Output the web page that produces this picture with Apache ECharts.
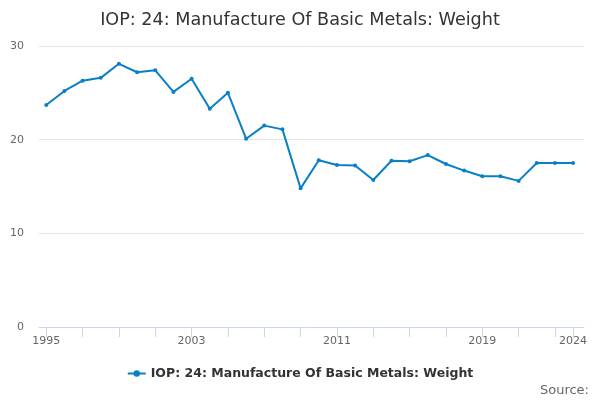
<!DOCTYPE html>
<html>
<head>
<meta charset="utf-8">
<script src="https://cdn.jsdelivr.net/npm/echarts@6/dist/echarts.min.js"></script>
<style>
  html, body { margin: 0; padding: 0; background: #fff; }
  #chart { width: 600px; height: 400px; }
</style>
</head>
<body>
<div id="chart"></div>
<script>
// data
var years = [1995, 1996, 1997, 1998, 1999, 2000, 2001, 2002, 2003, 2004,
             2005, 2006, 2007, 2008, 2009, 2010, 2011, 2012, 2013, 2014,
             2015, 2016, 2017, 2018, 2019, 2020, 2021, 2022, 2023, 2024];
var weight = [23.7, 25.2, 26.3, 26.6, 28.1, 27.2, 27.4, 25.1, 26.5, 23.3,
              25.0, 20.1, 21.5, 21.1, 14.8, 17.8, 17.3, 17.25, 15.7, 17.75,
              17.7, 18.35, 17.4, 16.7, 16.1, 16.1, 15.6, 17.5, 17.5, 17.5];
var tickYears = [1995, 1997, 1999, 2001, 2003, 2005, 2007, 2009, 2011,
                 2013, 2015, 2017, 2019, 2021, 2023, 2024];
var labelYears = [1995, 2003, 2011, 2019, 2024];
var seriesName = 'IOP: 24: Manufacture Of Basic Metals: Weight';

var pts = years.map(function(y, i) { return [y, weight[i]]; });

var chart = echarts.init(document.getElementById('chart'));
var option = {
    textStyle: { fontFamily: 'DejaVu Sans' },
    title: {
        text: seriesName,
        left: 'center',
        top: 6,
        textStyle: { fontSize: 17.6, fontWeight: 'normal', color: '#333', fontFamily: 'DejaVu Sans' }
    },
    legend: {
        bottom: 15,
        left: 'center',
        itemWidth: 18,
        itemHeight: 8,
        textStyle: { fontSize: 12.5, color: '#333', fontWeight: 'bold', fontFamily: 'DejaVu Sans' },
        data: [seriesName]
    },
    graphic: [{
        type: 'text',
        right: 11,
        bottom: 3,
        style: { text: 'Source:', fontSize: 13, fill: '#666', fontFamily: 'DejaVu Sans' }
    }],
    grid: { left: 39, right: 16, top: 46, bottom: 73, containLabel: false },
    xAxis: {
        type: 'value',
        min: 1994.6,
        max: 2024.6,
        axisLine: { show: true, lineStyle: { color: '#ccd6eb' } },
        axisTick: { show: true, inside: false, length: 10, lineStyle: { color: '#ccd6eb' }, customValues: tickYears },
        axisLabel: { color: '#666', fontSize: 11, margin: 9, customValues: labelYears,
                     formatter: function(v) { return String(v); } },
        splitLine: { show: false }
    },
    yAxis: {
        type: 'value',
        min: 0,
        max: 30,
        interval: 10,
        axisLine: { show: false },
        axisTick: { show: false },
        axisLabel: { color: '#666', fontSize: 11, margin: 15 },
        splitLine: { lineStyle: { color: '#e6e6e6' } }
    },
    series: [{
        name: seriesName,
        type: 'line',
        data: pts,
        symbol: 'circle',
        symbolSize: 4,
        color: '#0a7fc6',
        lineStyle: { width: 2 },
        animation: false
    }]
};
chart.setOption(option);
</script>
</body>
</html>
